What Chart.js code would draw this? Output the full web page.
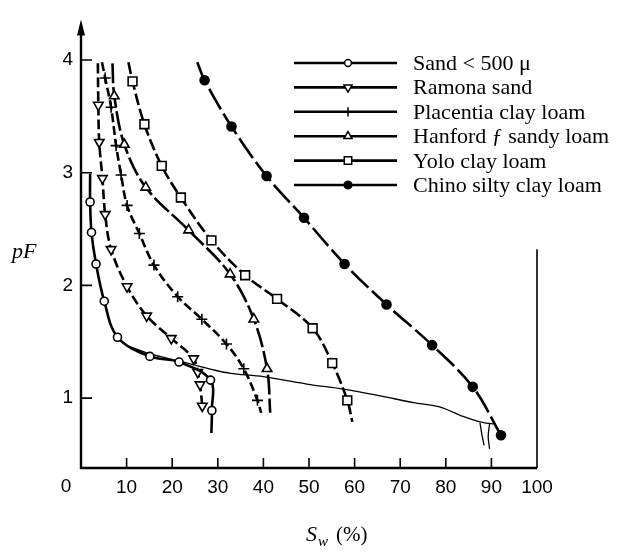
<!DOCTYPE html>
<html lang="en">
<head>
<meta charset="UTF-8" />
<title>pF vs Sw</title>
<script src="https://cdn.jsdelivr.net/npm/chart.js@4"></script>
<style>
  body { margin: 0; background: #fff; }
</style>
</head>
<body>
<div style="width: 622px; height: 554px;">
  <canvas id="pfChart" width="622" height="554"></canvas>
</div>
<script>
// values: Sw (%) against pF
const sandSw = [2.0, 2.3, 3.3, 5.1, 8.0, 15.1, 21.5, 28.4, 28.7];
const sandPF = [2.74, 2.47, 2.19, 1.86, 1.54, 1.37, 1.32, 1.16, 0.89];
const sandEnds = [[2.0, 2.99], [28.6, 0.69]];

const ramonaSw = [3.8, 4.0, 4.7, 5.3, 6.6, 10.1, 14.4, 19.8, 24.7, 25.6, 26.1, 26.6];
const ramonaPF = [3.60, 3.27, 2.95, 2.63, 2.32, 1.99, 1.73, 1.53, 1.35, 1.23, 1.12, 0.93];
const ramonaEnds = [[3.7, 3.97], null];

const placentiaSw = [5.3, 6.6, 7.7, 8.8, 10.1, 12.8, 16.0, 21.2, 26.5, 31.9, 35.7, 38.7];
const placentiaPF = [3.84, 3.58, 3.24, 2.98, 2.71, 2.46, 2.18, 1.90, 1.70, 1.48, 1.26, 0.98];
const placentiaEnds = [[4.6, 3.98], [39.5, 0.87]];

const hanfordSw = [7.3, 9.5, 14.2, 23.6, 32.7, 37.9, 40.8];
const hanfordPF = [3.68, 3.25, 2.87, 2.49, 2.10, 1.70, 1.26];
const hanfordEnds = [[6.9, 3.97], [41.5, 0.87]];

const yoloSw = [11.3, 13.9, 17.7, 21.9, 28.6, 36.0, 43.0, 50.8, 55.1, 58.4];
const yoloPF = [3.81, 3.43, 3.06, 2.78, 2.40, 2.09, 1.88, 1.62, 1.31, 0.98];
const yoloEnds = [[10.4, 3.98], [59.5, 0.79]];

const chinoSw = [27.1, 33.0, 40.7, 48.9, 57.8, 67.0, 77.0, 85.9, 92.1];
const chinoPF = [3.82, 3.41, 2.97, 2.60, 2.19, 1.83, 1.47, 1.10, 0.67];
const chinoEnds = [[25.5, 3.98], null];

// thin unlabelled curve running across the plot
const thinSw = [10.5, 15.3, 21.4, 25.2, 29.1, 32.8, 40.0, 50.3, 57.5, 65.6, 72.9, 78.8, 83.6, 87.5, 90.4];
const thinPF = [1.46, 1.39, 1.33, 1.29, 1.25, 1.22, 1.19, 1.12, 1.08, 1.02, 0.96, 0.92, 0.84, 0.79, 0.77];
const tailASw = [87.5, 87.9, 88.4];
const tailAPF = [0.78, 0.68, 0.58];
const tailBSw = [89.6, 89.3, 89.6];
const tailBPF = [0.77, 0.66, 0.55];

const xTicks = [10, 20, 30, 40, 50, 60, 70, 80, 90, 100];
const yTicks = [1, 2, 3, 4];
const rightEdgeTop = 2.32; // the right frame line only goes up to here

function toPoints(sw, pf, ends) {
  const pts = sw.map((v, i) => ({ x: v, y: pf[i] }));
  if (ends && ends[0]) pts.unshift({ x: ends[0][0], y: ends[0][1], bare: true });
  if (ends && ends[1]) pts.push({ x: ends[1][0], y: ends[1][1], bare: true });
  return pts;
}

function soil(label, sw, pf, ends, extra) {
  const r = extra.r;
  delete extra.r;
  return Object.assign({
    label: label,
    data: toPoints(sw, pf, ends),
    showLine: true,
    borderColor: '#000',
    borderWidth: 2.6,
    tension: 0.35,
    pointBorderColor: '#000',
    pointBackgroundColor: '#fff',
    pointBorderWidth: 1.6,
    pointRadius: c => (c.raw && c.raw.bare ? 0 : r),
    markerR: r
  }, extra);
}

function thin(sw, pf) {
  return {
    data: toPoints(sw, pf, null),
    showLine: true,
    borderColor: '#000',
    borderWidth: 1.3,
    tension: 0.3,
    pointRadius: 0
  };
}

const axisDecor = {
  id: 'axisDecor',
  afterDraw(chart) {
    const ctx = chart.ctx;
    const a = chart.chartArea;
    const x = chart.scales.x, y = chart.scales.y;
    ctx.save();
    ctx.strokeStyle = '#000';
    ctx.fillStyle = '#000';
    ctx.lineWidth = 2.4;
    ctx.beginPath();
    ctx.moveTo(a.left, a.bottom + 1);
    ctx.lineTo(a.left, a.top + 6);
    ctx.moveTo(a.left - 1, a.bottom);
    ctx.lineTo(a.right, a.bottom);
    ctx.stroke();
    // arrow head
    ctx.beginPath();
    ctx.moveTo(a.left, a.top);
    ctx.lineTo(a.left - 4, a.top + 16);
    ctx.lineTo(a.left + 4, a.top + 16);
    ctx.closePath();
    ctx.fill();
    // partial right frame
    ctx.lineWidth = 1.6;
    ctx.beginPath();
    ctx.moveTo(a.right, a.bottom);
    ctx.lineTo(a.right, y.getPixelForValue(rightEdgeTop));
    ctx.stroke();
    // inward ticks
    ctx.lineWidth = 1.6;
    ctx.beginPath();
    xTicks.slice(0, -1).forEach(v => {
      const px = x.getPixelForValue(v);
      ctx.moveTo(px, a.bottom);
      ctx.lineTo(px, a.bottom - 10);
    });
    yTicks.forEach(v => {
      const py = y.getPixelForValue(v);
      ctx.moveTo(a.left, py);
      ctx.lineTo(a.left + 11, py);
    });
    ctx.stroke();

    // origin label and axis titles
    ctx.font = '19px "Liberation Sans"';
    ctx.textAlign = 'center';
    ctx.textBaseline = 'middle';
    ctx.fillText('0', a.left - 15, a.bottom + 19);

    ctx.textAlign = 'left';
    ctx.textBaseline = 'alphabetic';
    ctx.font = 'italic 22px "Liberation Serif"';
    ctx.fillText('pF', 12, 258);

    ctx.font = 'italic 22px "Liberation Serif"';
    ctx.fillText('S', 306, 541);
    ctx.font = 'italic 15px "Liberation Serif"';
    ctx.fillText('w', 318, 546);
    ctx.font = '21px "Liberation Serif"';
    ctx.fillText('(%)', 336, 541);

    // legend drawn inside the plot, line + marker + name
    let row = 0;
    chart.data.datasets.forEach(ds => {
      if (!ds.label) return;
      const ly = 63 + row * 24.4;
      ctx.lineWidth = 2.6;
      ctx.strokeStyle = '#000';
      ctx.beginPath();
      ctx.moveTo(294, ly);
      ctx.lineTo(397, ly);
      ctx.stroke();
      ctx.fillStyle = ds.pointBackgroundColor;
      ctx.lineWidth = 1.5;
      Chart.helpers.drawPoint(ctx, {
        pointStyle: ds.pointStyle,
        rotation: ds.pointRotation || 0,
        radius: ds.markerR * 0.85,
        borderWidth: 1.5
      }, 348, ly);
      ctx.fillStyle = '#000';
      ctx.font = '22px "Liberation Serif"';
      ctx.fillText(ds.label, 413, ly + 7);
      row++;
    });
    ctx.restore();
  }
};

const ctx = document.getElementById('pfChart').getContext('2d');
const pfChart = new Chart(ctx, {
  type: 'scatter',
  data: {
    datasets: [
      soil('Sand < 500 \u03bc', sandSw, sandPF, sandEnds, { pointStyle: 'circle', r: 4 }),
      soil('Ramona sand', ramonaSw, ramonaPF, ramonaEnds, { pointStyle: 'triangle', pointRotation: 180, r: 5.5, borderDash: [10, 4] }),
      soil('Placentia clay loam', placentiaSw, placentiaPF, placentiaEnds, { pointStyle: 'cross', r: 5.5, borderDash: [9, 4] }),
      soil('Hanford \u0192 sandy loam', hanfordSw, hanfordPF, hanfordEnds, { pointStyle: 'triangle', r: 5.5, borderDash: [20, 4] }),
      soil('Yolo clay loam', yoloSw, yoloPF, yoloEnds, { pointStyle: 'rect', r: 6.2, borderDash: [12, 4] }),
      soil('Chino silty clay loam', chinoSw, chinoPF, chinoEnds, { pointStyle: 'circle', r: 4.5, pointBackgroundColor: '#000', borderDash: [24, 5] }),
      thin(thinSw, thinPF),
      thin(tailASw, tailAPF),
      thin(tailBSw, tailBPF)
    ]
  },
  options: {
    responsive: false,
    animation: false,
    layout: { padding: { top: 10, right: 85, bottom: 0, left: 0 } },
    plugins: {
      legend: { display: false },
      tooltip: { enabled: false }
    },
    scales: {
      x: {
        type: 'linear',
        min: 0,
        max: 100,
        afterBuildTicks: s => { s.ticks = xTicks.map(v => ({ value: v })); },
        afterFit: s => { s.height = 86; },
        grid: { display: false, drawTicks: false },
        border: { display: false },
        ticks: { color: '#000', padding: 8, maxRotation: 0, font: { family: 'Liberation Sans', size: 19 } }
      },
      y: {
        type: 'linear',
        min: 0.38,
        max: 4.36,
        afterBuildTicks: s => { s.ticks = yTicks.map(v => ({ value: v })); },
        afterFit: s => { s.width = 81; },
        grid: { display: false, drawTicks: false },
        border: { display: false },
        ticks: { color: '#000', padding: 8, font: { family: 'Liberation Sans', size: 19 } }
      }
    }
  },
  plugins: [axisDecor]
});
</script>
</body>
</html>
